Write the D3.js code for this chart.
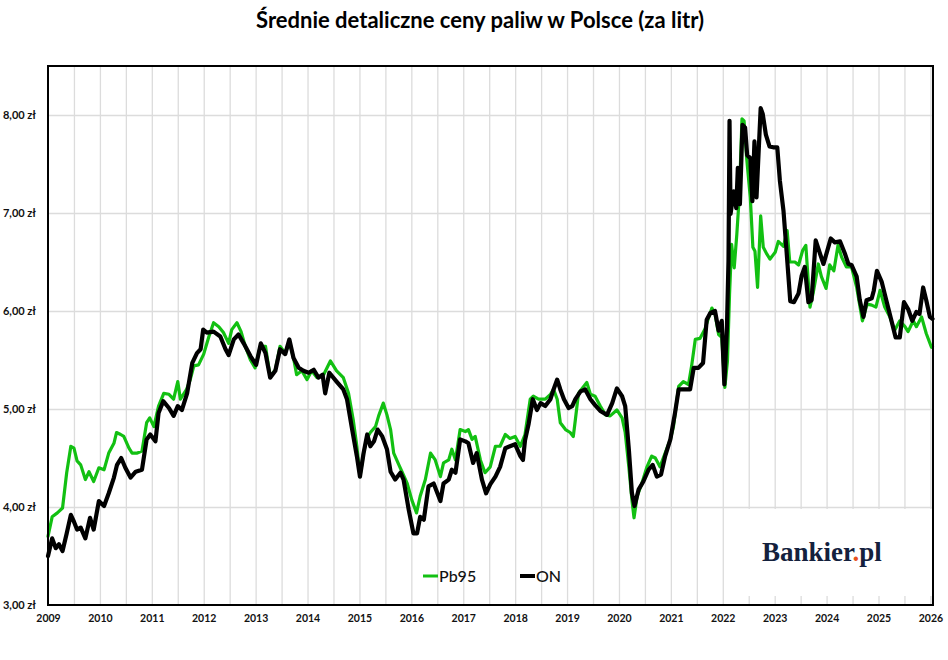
<!DOCTYPE html>
<html>
<head>
<meta charset="utf-8">
<style>
 body { margin: 0; background: #fff; }
 .title { font-family: Lato, "Open Sans", sans-serif; font-weight: bold; font-size: 22px; }
 .yaxis text { font-family: Lato, sans-serif; font-weight: bold; font-size: 11px; fill: #111; }
 .xaxis text { font-family: Lato, sans-serif; font-weight: bold; font-size: 10.5px; fill: #111; }
 .axis path, .axis line { display: none; }
 .grid line { stroke: #dcdcdc; stroke-width: 1.3px; }
 .grid path { display: none; }
 .legend text { font-family: Lato, sans-serif; font-size: 16px; font-weight: 500; fill: #111; }
 .series { fill: none; stroke-linejoin: round; stroke-linecap: round; }
</style>
</head>
<body>
<svg width="948" height="660"></svg>
<script src="https://cdn.jsdelivr.net/npm/d3@7"></script>
<script>
// tick labels
var yearTicks = [2009, 2010, 2011, 2012, 2013, 2014, 2015, 2016, 2017, 2018, 2019, 2020, 2021, 2022, 2023, 2024, 2025, 2026];
var priceTicks = [3, 4, 5, 6, 7, 8];
var seriesNames = ["Pb95", "ON"];

// Pb95 - dates as decimal years, prices in zł/l
var pb95Years = [
  2009.00,2009.08,2009.18,2009.28,2009.36,2009.44,2009.50,2009.56,2009.63,2009.72,2009.79,2009.88,2009.98,
  2010.08,2010.17,2010.27,2010.32,2010.40,2010.46,2010.56,2010.62,2010.72,2010.81,2010.90,2010.96,
  2011.04,2011.13,2011.23,2011.33,2011.42,2011.50,2011.55,2011.67,2011.74,2011.81,2011.90,
  2012.00,2012.10,2012.19,2012.29,2012.38,2012.48,2012.54,2012.64,2012.72,2012.80,2012.90,2012.99,
  2013.09,2013.19,2013.28,2013.38,2013.47,2013.57,2013.65,2013.73,2013.79,2013.89,2013.99,
  2014.08,2014.18,2014.31,2014.44,2014.56,2014.69,2014.79,2014.88,2014.95,
  2015.01,2015.08,2015.14,2015.21,2015.31,2015.37,2015.46,2015.53,2015.60,2015.66,2015.76,2015.82,2015.92,
  2016.01,2016.10,2016.17,2016.27,2016.37,2016.46,2016.56,2016.62,2016.72,2016.78,2016.85,2016.94,
  2017.04,2017.10,2017.17,2017.23,2017.33,2017.42,2017.52,2017.62,2017.71,2017.81,2017.90,
  2018.00,2018.10,2018.19,2018.29,2018.35,2018.45,2018.58,2018.68,2018.74,2018.81,2018.87,2018.97,
  2019.06,2019.12,2019.16,2019.22,2019.32,2019.38,2019.45,2019.54,2019.64,2019.74,2019.83,2019.96,
  2020.06,2020.12,2020.19,2020.25,2020.29,2020.35,2020.44,2020.54,2020.63,2020.70,2020.79,2020.89,2020.99,
  2021.05,2021.15,2021.24,2021.34,2021.40,2021.47,2021.56,2021.66,2021.72,2021.79,2021.85,2021.92,2021.98,
  2022.04,2022.09,2022.13,2022.17,2022.22,2022.27,2022.32,2022.37,2022.41,2022.46,2022.53,2022.58,2022.62,2022.67,2022.73,2022.78,2022.85,2022.91,
  2023.01,2023.07,2023.17,2023.24,2023.29,2023.39,2023.46,2023.54,2023.60,2023.68,2023.74,2023.84,2023.90,2023.99,
  2024.06,2024.14,2024.22,2024.29,2024.38,2024.48,2024.58,2024.69,2024.78,2024.87,2024.95,
  2025.03,2025.12,2025.22,2025.31,2025.41,2025.51,2025.57,2025.67,2025.73,2025.83,2025.92,2026.02,2026.04
];
var pb95Prices = [
  3.70,3.90,3.94,3.99,4.35,4.62,4.60,4.47,4.43,4.28,4.36,4.26,4.40,
  4.38,4.55,4.65,4.76,4.74,4.72,4.60,4.55,4.55,4.57,4.86,4.91,
  4.82,5.03,5.16,5.15,5.10,5.28,5.10,5.20,5.30,5.44,5.45,
  5.56,5.74,5.88,5.84,5.78,5.67,5.81,5.88,5.79,5.64,5.50,5.42,
  5.64,5.64,5.33,5.40,5.64,5.57,5.69,5.52,5.35,5.39,5.30,
  5.39,5.32,5.35,5.49,5.39,5.32,5.16,4.89,4.62,
  4.31,4.55,4.70,4.76,4.82,4.93,5.06,4.94,4.79,4.55,4.43,4.36,4.24,
  4.07,3.94,4.11,4.28,4.55,4.48,4.31,4.45,4.48,4.59,4.48,4.79,
  4.77,4.79,4.69,4.72,4.48,4.35,4.41,4.62,4.62,4.74,4.70,
  4.72,4.62,4.74,5.10,5.13,5.10,5.10,5.15,5.20,5.10,4.86,4.79,
  4.76,4.72,4.89,5.16,5.23,5.27,5.15,5.13,5.03,4.94,4.93,4.99,
  4.91,4.76,4.41,4.07,3.89,4.11,4.24,4.41,4.52,4.50,4.41,4.55,4.69,
  4.82,5.23,5.28,5.25,5.44,5.71,5.72,5.82,5.92,6.03,5.97,5.76,5.73,
  5.22,5.49,6.17,6.68,6.44,6.78,7.19,7.96,7.94,7.56,7.16,6.65,6.61,6.24,6.97,6.65,6.58,6.53,
  6.60,6.71,6.66,6.82,6.50,6.50,6.47,6.62,6.67,6.04,6.18,6.48,6.35,6.23,
  6.47,6.41,6.67,6.55,6.45,6.45,6.24,5.90,6.07,6.06,6.04,
  6.21,6.04,5.94,5.80,5.90,5.84,5.79,5.90,5.84,5.94,5.77,5.63,5.64
];

// ON (diesel)
var onYears = [
  2009.00,2009.08,2009.15,2009.21,2009.28,2009.36,2009.44,2009.50,2009.56,2009.63,2009.72,2009.81,2009.88,2009.98,
  2010.08,2010.17,2010.27,2010.33,2010.41,2010.49,2010.59,2010.69,2010.81,2010.90,2010.97,
  2011.07,2011.13,2011.22,2011.33,2011.42,2011.50,2011.58,2011.68,2011.78,2011.87,2011.94,2011.99,
  2012.06,2012.19,2012.32,2012.42,2012.48,2012.58,2012.67,2012.77,2012.90,
  2013.01,2013.10,2013.19,2013.28,2013.38,2013.47,2013.57,2013.65,2013.73,2013.83,2013.92,
  2014.02,2014.12,2014.21,2014.29,2014.34,2014.42,2014.56,2014.69,2014.76,2014.85,2014.95,
  2015.01,2015.08,2015.15,2015.21,2015.28,2015.35,2015.44,2015.53,2015.60,2015.69,2015.79,2015.85,2015.95,
  2016.04,2016.11,2016.17,2016.24,2016.33,2016.43,2016.56,2016.62,2016.72,2016.78,2016.85,2016.94,
  2017.04,2017.10,2017.19,2017.26,2017.36,2017.44,2017.52,2017.62,2017.71,2017.81,2017.90,
  2018.00,2018.10,2018.15,2018.19,2018.26,2018.34,2018.42,2018.49,2018.58,2018.68,2018.74,2018.81,2018.87,2018.94,
  2019.03,2019.10,2019.16,2019.26,2019.35,2019.45,2019.54,2019.64,2019.77,2019.87,2019.96,
  2020.06,2020.12,2020.19,2020.25,2020.30,2020.38,2020.47,2020.57,2020.65,2020.73,2020.81,2020.89,2020.99,
  2021.08,2021.15,2021.24,2021.37,2021.44,2021.53,2021.62,2021.69,2021.76,2021.85,2021.92,2021.98,
  2022.03,2022.08,2022.11,2022.13,2022.15,2022.21,2022.26,2022.29,2022.33,2022.38,2022.43,2022.47,2022.53,2022.57,2022.61,2022.65,2022.70,2022.73,2022.77,2022.83,2022.90,2022.97,
  2023.05,2023.10,2023.17,2023.23,2023.30,2023.37,2023.46,2023.52,2023.58,2023.65,2023.71,2023.79,2023.87,2023.94,
  2024.00,2024.08,2024.16,2024.26,2024.35,2024.42,2024.48,2024.58,2024.64,2024.71,2024.77,2024.87,2024.91,2024.97,
  2025.06,2025.15,2025.25,2025.33,2025.41,2025.49,2025.57,2025.65,2025.73,2025.79,2025.86,2025.92,2025.99,2026.04
];
var onPrices = [
  3.50,3.68,3.58,3.62,3.55,3.73,3.92,3.85,3.77,3.79,3.68,3.89,3.77,4.06,
  4.01,4.14,4.30,4.43,4.50,4.40,4.30,4.36,4.38,4.69,4.74,
  4.67,4.96,5.08,5.01,4.93,5.03,4.99,5.16,5.47,5.57,5.61,5.81,
  5.78,5.79,5.74,5.61,5.55,5.71,5.76,5.67,5.54,
  5.45,5.67,5.57,5.32,5.39,5.61,5.56,5.71,5.52,5.42,5.39,
  5.37,5.40,5.32,5.35,5.16,5.37,5.28,5.20,5.10,4.82,4.52,
  4.31,4.55,4.74,4.62,4.67,4.79,4.72,4.59,4.36,4.28,4.35,4.28,3.97,
  3.73,3.73,3.90,3.87,4.21,4.24,4.06,4.24,4.28,4.38,4.35,4.69,
  4.67,4.65,4.45,4.55,4.28,4.14,4.23,4.31,4.41,4.60,4.62,
  4.64,4.52,4.48,4.68,4.85,5.10,4.99,5.06,5.03,5.10,5.20,5.30,5.20,5.10,
  5.01,5.03,5.10,5.18,5.20,5.10,5.04,4.98,4.94,5.06,5.21,
  5.13,5.03,4.59,4.14,4.01,4.18,4.26,4.38,4.43,4.31,4.33,4.52,4.69,
  4.96,5.20,5.20,5.20,5.42,5.42,5.47,5.91,5.98,6.00,5.80,5.90,
  5.25,5.83,6.51,7.94,6.99,7.22,7.05,7.46,7.09,7.90,7.87,7.59,7.56,7.12,7.73,7.16,7.73,8.07,8.01,7.80,7.68,7.67,
  7.67,7.33,7.02,6.60,6.10,6.09,6.18,6.36,6.45,6.09,6.11,6.72,6.59,6.48,
  6.59,6.74,6.70,6.71,6.59,6.48,6.47,6.35,6.11,5.94,6.11,6.13,6.21,6.41,
  6.30,6.11,5.90,5.73,5.73,6.09,6.02,5.90,5.99,5.97,6.24,6.11,5.94,5.92
];

var colors = { "Pb95": "#12c012", "ON": "#000000" };

var svg = d3.select("svg");
var margin = { top: 66, left: 48, right: 15, bottom: 55 };
var width = +svg.attr("width"), height = +svg.attr("height");

var x = d3.scaleLinear().domain([2009, 2026.05]).range([margin.left, width - margin.right]);
var y = d3.scaleLinear().domain([3, 8.5]).range([height - margin.bottom, margin.top]);

var fmtPrice = function(d) { return d3.format(".2f")(d).replace(".", ",") + " zł"; };

// title
svg.append("text").attr("class", "title")
  .attr("x", 480).attr("y", 28)
  .attr("text-anchor", "middle")
  .text("Średnie detaliczne ceny paliw w Polsce (za litr)");

// grid: half-year verticals, integer-price horizontals
var halfYears = d3.range(2009.5, 2026.01, 0.5);
svg.append("g").attr("class", "grid")
  .attr("transform", "translate(0," + y(3) + ")")
  .call(d3.axisBottom(x).tickValues(halfYears).tickSize(-(y(3) - y(8.5))).tickFormat(""));
svg.append("g").attr("class", "grid")
  .attr("transform", "translate(" + x(2009) + ",0)")
  .call(d3.axisLeft(y).tickValues(priceTicks.slice(1)).tickSize(-(x(2026.05) - x(2009))).tickFormat(""));

// logo panel covering the grid in the bottom-right corner
svg.append("rect")
  .attr("x", x(2022) + 2).attr("y", y(4) + 2)
  .attr("width", x(2026.05) - x(2022) - 3).attr("height", y(3) - y(4) - 11)
  .attr("fill", "#fff");

var logo = svg.append("text")
  .attr("x", 762).attr("y", 561)
  .attr("font-family", "'Liberation Serif', 'DejaVu Serif', serif")
  .attr("font-weight", "bold").attr("font-size", 27)
  .attr("fill", "#14213d");
logo.append("tspan").text("Bankier");
logo.append("tspan").attr("fill", "#e8501e").text(".");
logo.append("tspan").text("pl");

// lines
var line = d3.line()
  .x(function(d) { return x(d[0]); })
  .y(function(d) { return y(d[1]); });

svg.append("path").attr("class", "series")
  .datum(d3.zip(pb95Years, pb95Prices))
  .attr("stroke", colors["Pb95"]).attr("stroke-width", 3.2)
  .attr("d", line);
svg.append("path").attr("class", "series")
  .datum(d3.zip(onYears, onPrices))
  .attr("stroke", colors["ON"]).attr("stroke-width", 4.2)
  .attr("d", line);

// frame
svg.append("rect")
  .attr("x", x(2009)).attr("y", y(8.5))
  .attr("width", x(2026.05) - x(2009)).attr("height", y(3) - y(8.5))
  .attr("fill", "none").attr("stroke", "#000").attr("stroke-width", 2);

// axes
svg.append("g").attr("class", "axis yaxis")
  .attr("transform", "translate(" + x(2009) + ",0)")
  .call(d3.axisLeft(y).tickValues(priceTicks).tickFormat(fmtPrice).tickSize(0).tickPadding(12));
svg.append("g").attr("class", "axis xaxis")
  .attr("transform", "translate(0," + y(3) + ")")
  .call(d3.axisBottom(x).tickValues(yearTicks).tickFormat(d3.format("d")).tickSize(0).tickPadding(10));

// legend
var legend = svg.append("g").attr("class", "legend")
  .selectAll("g").data(seriesNames).join("g")
  .attr("transform", function(d, i) { return "translate(" + (423 + i * 97) + ",576)"; });
legend.append("line")
  .attr("x1", 0).attr("x2", 15)
  .attr("stroke", function(d) { return colors[d]; })
  .attr("stroke-width", function(d) { return d === "ON" ? 4 : 3; });
legend.append("text")
  .attr("x", 16).attr("y", 6)
  .text(function(d) { return d; });
</script>
</body>
</html>
